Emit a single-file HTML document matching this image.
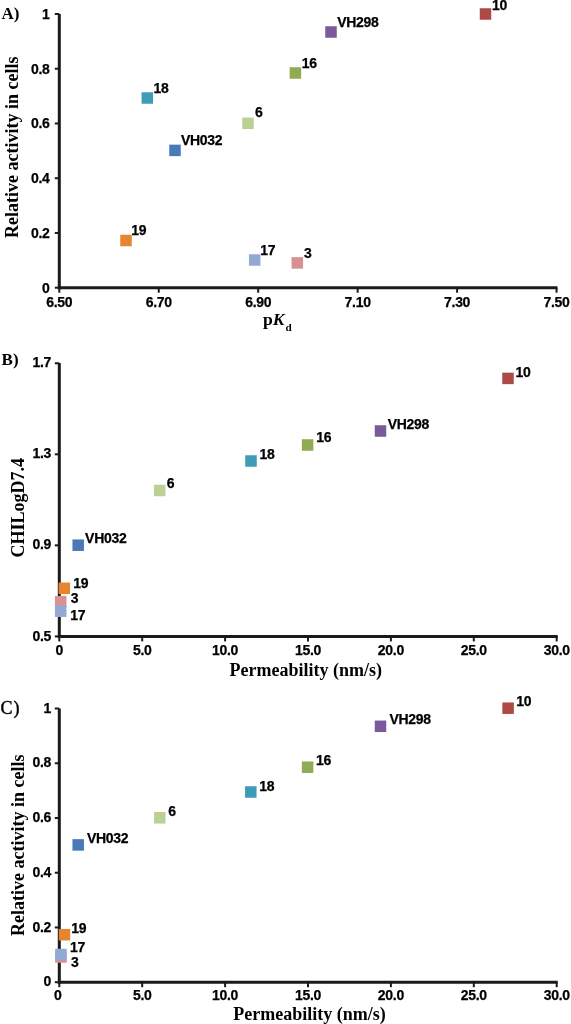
<!DOCTYPE html>
<html><head><meta charset="utf-8"><style>
html,body{margin:0;padding:0;background:#fff;width:571px;height:1024px;overflow:hidden}
svg{display:block;will-change:transform}
text{fill:#000}
</style></head><body>
<svg width="571" height="1024" viewBox="0 0 571 1024">
<rect width="571" height="1024" fill="#fff"/>
<line x1="59.3" y1="14.0" x2="59.3" y2="289.2" stroke="#1a1a1a" stroke-width="3"/>
<line x1="57.8" y1="287.7" x2="557.5" y2="287.7" stroke="#1a1a1a" stroke-width="3"/>
<line x1="54.8" y1="14.0" x2="59.3" y2="14.0" stroke="#1a1a1a" stroke-width="2"/>
<text x="49.5" y="18.8" text-anchor="end" style="font-family:'Liberation Sans',sans-serif;font-weight:bold;stroke:#000;stroke-width:0.25px;letter-spacing:-0.3px;font-size:14px" >1</text>
<line x1="54.8" y1="68.73999999999998" x2="59.3" y2="68.73999999999998" stroke="#1a1a1a" stroke-width="2"/>
<text x="49.5" y="73.53999999999998" text-anchor="end" style="font-family:'Liberation Sans',sans-serif;font-weight:bold;stroke:#000;stroke-width:0.25px;letter-spacing:-0.3px;font-size:14px" >0.8</text>
<line x1="54.8" y1="123.47999999999999" x2="59.3" y2="123.47999999999999" stroke="#1a1a1a" stroke-width="2"/>
<text x="49.5" y="128.28" text-anchor="end" style="font-family:'Liberation Sans',sans-serif;font-weight:bold;stroke:#000;stroke-width:0.25px;letter-spacing:-0.3px;font-size:14px" >0.6</text>
<line x1="54.8" y1="178.21999999999997" x2="59.3" y2="178.21999999999997" stroke="#1a1a1a" stroke-width="2"/>
<text x="49.5" y="183.01999999999998" text-anchor="end" style="font-family:'Liberation Sans',sans-serif;font-weight:bold;stroke:#000;stroke-width:0.25px;letter-spacing:-0.3px;font-size:14px" >0.4</text>
<line x1="54.8" y1="232.95999999999998" x2="59.3" y2="232.95999999999998" stroke="#1a1a1a" stroke-width="2"/>
<text x="49.5" y="237.76" text-anchor="end" style="font-family:'Liberation Sans',sans-serif;font-weight:bold;stroke:#000;stroke-width:0.25px;letter-spacing:-0.3px;font-size:14px" >0.2</text>
<line x1="54.8" y1="287.7" x2="59.3" y2="287.7" stroke="#1a1a1a" stroke-width="2"/>
<text x="49.5" y="292.5" text-anchor="end" style="font-family:'Liberation Sans',sans-serif;font-weight:bold;stroke:#000;stroke-width:0.25px;letter-spacing:-0.3px;font-size:14px" >0</text>
<line x1="59.3" y1="287.7" x2="59.3" y2="292.7" stroke="#1a1a1a" stroke-width="2"/>
<text x="59.3" y="307.1" text-anchor="middle" style="font-family:'Liberation Sans',sans-serif;font-weight:bold;stroke:#000;stroke-width:0.25px;letter-spacing:-0.3px;font-size:14px" >6.50</text>
<line x1="158.75" y1="287.7" x2="158.75" y2="292.7" stroke="#1a1a1a" stroke-width="2"/>
<text x="158.75" y="307.1" text-anchor="middle" style="font-family:'Liberation Sans',sans-serif;font-weight:bold;stroke:#000;stroke-width:0.25px;letter-spacing:-0.3px;font-size:14px" >6.70</text>
<line x1="258.2" y1="287.7" x2="258.2" y2="292.7" stroke="#1a1a1a" stroke-width="2"/>
<text x="258.2" y="307.1" text-anchor="middle" style="font-family:'Liberation Sans',sans-serif;font-weight:bold;stroke:#000;stroke-width:0.25px;letter-spacing:-0.3px;font-size:14px" >6.90</text>
<line x1="357.65000000000003" y1="287.7" x2="357.65000000000003" y2="292.7" stroke="#1a1a1a" stroke-width="2"/>
<text x="357.65000000000003" y="307.1" text-anchor="middle" style="font-family:'Liberation Sans',sans-serif;font-weight:bold;stroke:#000;stroke-width:0.25px;letter-spacing:-0.3px;font-size:14px" >7.10</text>
<line x1="457.1" y1="287.7" x2="457.1" y2="292.7" stroke="#1a1a1a" stroke-width="2"/>
<text x="457.1" y="307.1" text-anchor="middle" style="font-family:'Liberation Sans',sans-serif;font-weight:bold;stroke:#000;stroke-width:0.25px;letter-spacing:-0.3px;font-size:14px" >7.30</text>
<line x1="556.55" y1="287.7" x2="556.55" y2="292.7" stroke="#1a1a1a" stroke-width="2"/>
<text x="556.55" y="307.1" text-anchor="middle" style="font-family:'Liberation Sans',sans-serif;font-weight:bold;stroke:#000;stroke-width:0.25px;letter-spacing:-0.3px;font-size:14px" >7.50</text>
<text x="1.4" y="19" text-anchor="start" style="font-family:'Liberation Serif',serif;font-weight:bold;font-size:17px" >A)</text>
<text transform="translate(17.5,238) rotate(-90)" style="font-family:'Liberation Serif',serif;font-weight:bold;font-size:18px">Relative activity in cells</text>
<text x="263" y="324.9" style="font-family:'Liberation Serif',serif;font-weight:bold;font-size:17.6px">p<tspan font-style="italic">K</tspan><tspan font-size="11.2px" dy="5.8" dx="0.9">d</tspan></text>
<rect x="291.55" y="257.15" width="11.5" height="11.5" fill="#D69190"/>
<rect x="248.95" y="254.25" width="11.5" height="11.5" fill="#93A9D4"/>
<rect x="120.25" y="234.75" width="11.5" height="11.5" fill="#E6842F"/>
<rect x="169.25" y="144.65" width="11.5" height="11.5" fill="#4979B7"/>
<rect x="242.25" y="117.55" width="11.5" height="11.5" fill="#BAD095"/>
<rect x="141.55" y="92.25" width="11.5" height="11.5" fill="#3D9CB6"/>
<rect x="289.65" y="67.25" width="11.5" height="11.5" fill="#90AB52"/>
<rect x="325.25" y="26.25" width="11.5" height="11.5" fill="#795B9B"/>
<rect x="479.75" y="8.25" width="11.5" height="11.5" fill="#AE4A46"/>
<text x="304" y="257.7" text-anchor="start" style="font-family:'Liberation Sans',sans-serif;font-weight:bold;stroke:#000;stroke-width:0.25px;letter-spacing:-0.3px;font-size:14px" >3</text>
<text x="260.2" y="254.9" text-anchor="start" style="font-family:'Liberation Sans',sans-serif;font-weight:bold;stroke:#000;stroke-width:0.25px;letter-spacing:-0.3px;font-size:14px" >17</text>
<text x="131.2" y="235.0" text-anchor="start" style="font-family:'Liberation Sans',sans-serif;font-weight:bold;stroke:#000;stroke-width:0.25px;letter-spacing:-0.3px;font-size:14px" >19</text>
<text x="181" y="145.3" text-anchor="start" style="font-family:'Liberation Sans',sans-serif;font-weight:bold;stroke:#000;stroke-width:0.25px;letter-spacing:-0.3px;font-size:14px" >VH032</text>
<text x="255" y="117.3" text-anchor="start" style="font-family:'Liberation Sans',sans-serif;font-weight:bold;stroke:#000;stroke-width:0.25px;letter-spacing:-0.3px;font-size:14px" >6</text>
<text x="153.5" y="92.6" text-anchor="start" style="font-family:'Liberation Sans',sans-serif;font-weight:bold;stroke:#000;stroke-width:0.25px;letter-spacing:-0.3px;font-size:14px" >18</text>
<text x="301.7" y="67.6" text-anchor="start" style="font-family:'Liberation Sans',sans-serif;font-weight:bold;stroke:#000;stroke-width:0.25px;letter-spacing:-0.3px;font-size:14px" >16</text>
<text x="337.2" y="26.900000000000002" text-anchor="start" style="font-family:'Liberation Sans',sans-serif;font-weight:bold;stroke:#000;stroke-width:0.25px;letter-spacing:-0.3px;font-size:14px" >VH298</text>
<text x="492" y="10.3" text-anchor="start" style="font-family:'Liberation Sans',sans-serif;font-weight:bold;stroke:#000;stroke-width:0.25px;letter-spacing:-0.3px;font-size:14px" >10</text>
<line x1="59.3" y1="363.0" x2="59.3" y2="637.9" stroke="#1a1a1a" stroke-width="3"/>
<line x1="57.8" y1="636.4" x2="557.7" y2="636.4" stroke="#1a1a1a" stroke-width="3"/>
<line x1="54.8" y1="363.28" x2="59.3" y2="363.28" stroke="#1a1a1a" stroke-width="2"/>
<text x="51" y="367.38" text-anchor="end" style="font-family:'Liberation Sans',sans-serif;font-weight:bold;stroke:#000;stroke-width:0.25px;letter-spacing:-0.3px;font-size:14px" >1.7</text>
<line x1="54.8" y1="454.31999999999994" x2="59.3" y2="454.31999999999994" stroke="#1a1a1a" stroke-width="2"/>
<text x="51" y="458.41999999999996" text-anchor="end" style="font-family:'Liberation Sans',sans-serif;font-weight:bold;stroke:#000;stroke-width:0.25px;letter-spacing:-0.3px;font-size:14px" >1.3</text>
<line x1="54.8" y1="545.36" x2="59.3" y2="545.36" stroke="#1a1a1a" stroke-width="2"/>
<text x="51" y="549.4599999999999" text-anchor="end" style="font-family:'Liberation Sans',sans-serif;font-weight:bold;stroke:#000;stroke-width:0.25px;letter-spacing:-0.3px;font-size:14px" >0.9</text>
<line x1="54.8" y1="636.4" x2="59.3" y2="636.4" stroke="#1a1a1a" stroke-width="2"/>
<text x="51" y="640.4999999999999" text-anchor="end" style="font-family:'Liberation Sans',sans-serif;font-weight:bold;stroke:#000;stroke-width:0.25px;letter-spacing:-0.3px;font-size:14px" >0.5</text>
<line x1="59.3" y1="636.4" x2="59.3" y2="641.4" stroke="#1a1a1a" stroke-width="2"/>
<text x="59.3" y="654.5" text-anchor="middle" style="font-family:'Liberation Sans',sans-serif;font-weight:bold;stroke:#000;stroke-width:0.25px;letter-spacing:-0.3px;font-size:14px" >0</text>
<line x1="142.2" y1="636.4" x2="142.2" y2="641.4" stroke="#1a1a1a" stroke-width="2"/>
<text x="142.2" y="654.5" text-anchor="middle" style="font-family:'Liberation Sans',sans-serif;font-weight:bold;stroke:#000;stroke-width:0.25px;letter-spacing:-0.3px;font-size:14px" >5.0</text>
<line x1="225.09999999999997" y1="636.4" x2="225.09999999999997" y2="641.4" stroke="#1a1a1a" stroke-width="2"/>
<text x="225.09999999999997" y="654.5" text-anchor="middle" style="font-family:'Liberation Sans',sans-serif;font-weight:bold;stroke:#000;stroke-width:0.25px;letter-spacing:-0.3px;font-size:14px" >10.0</text>
<line x1="308.0" y1="636.4" x2="308.0" y2="641.4" stroke="#1a1a1a" stroke-width="2"/>
<text x="308.0" y="654.5" text-anchor="middle" style="font-family:'Liberation Sans',sans-serif;font-weight:bold;stroke:#000;stroke-width:0.25px;letter-spacing:-0.3px;font-size:14px" >15.0</text>
<line x1="390.9" y1="636.4" x2="390.9" y2="641.4" stroke="#1a1a1a" stroke-width="2"/>
<text x="390.9" y="654.5" text-anchor="middle" style="font-family:'Liberation Sans',sans-serif;font-weight:bold;stroke:#000;stroke-width:0.25px;letter-spacing:-0.3px;font-size:14px" >20.0</text>
<line x1="473.79999999999995" y1="636.4" x2="473.79999999999995" y2="641.4" stroke="#1a1a1a" stroke-width="2"/>
<text x="473.79999999999995" y="654.5" text-anchor="middle" style="font-family:'Liberation Sans',sans-serif;font-weight:bold;stroke:#000;stroke-width:0.25px;letter-spacing:-0.3px;font-size:14px" >25.0</text>
<line x1="556.6999999999999" y1="636.4" x2="556.6999999999999" y2="641.4" stroke="#1a1a1a" stroke-width="2"/>
<text x="556.6999999999999" y="654.5" text-anchor="middle" style="font-family:'Liberation Sans',sans-serif;font-weight:bold;stroke:#000;stroke-width:0.25px;letter-spacing:-0.3px;font-size:14px" >30.0</text>
<text x="1.6" y="364.8" text-anchor="start" style="font-family:'Liberation Serif',serif;font-weight:bold;font-size:17px" >B)</text>
<text transform="translate(23.5,557.6) rotate(-90)" style="font-family:'Liberation Serif',serif;font-weight:bold;font-size:18px">CHILogD7.4</text>
<text x="229.5" y="675.7" text-anchor="start" style="font-family:'Liberation Serif',serif;font-weight:bold;font-size:18px" >Permeability (nm/s)</text>
<rect x="54.95" y="595.95" width="11.5" height="11.5" fill="#D69190"/>
<rect x="54.95" y="605.45" width="11.5" height="11.5" fill="#93A9D4"/>
<rect x="58.55" y="582.55" width="11.5" height="11.5" fill="#E6842F"/>
<rect x="72.45" y="539.45" width="11.5" height="11.5" fill="#4979B7"/>
<rect x="153.95" y="484.75" width="11.5" height="11.5" fill="#BAD095"/>
<rect x="245.25" y="455.25" width="11.5" height="11.5" fill="#3D9CB6"/>
<rect x="301.85" y="439.25" width="11.5" height="11.5" fill="#90AB52"/>
<rect x="374.75" y="425.25" width="11.5" height="11.5" fill="#795B9B"/>
<rect x="502.25" y="372.65" width="11.5" height="11.5" fill="#AE4A46"/>
<text x="70.7" y="602.9" text-anchor="start" style="font-family:'Liberation Sans',sans-serif;font-weight:bold;stroke:#000;stroke-width:0.25px;letter-spacing:-0.3px;font-size:14px" >3</text>
<text x="70.2" y="619.6999999999999" text-anchor="start" style="font-family:'Liberation Sans',sans-serif;font-weight:bold;stroke:#000;stroke-width:0.25px;letter-spacing:-0.3px;font-size:14px" >17</text>
<text x="73.2" y="587.5999999999999" text-anchor="start" style="font-family:'Liberation Sans',sans-serif;font-weight:bold;stroke:#000;stroke-width:0.25px;letter-spacing:-0.3px;font-size:14px" >19</text>
<text x="85.1" y="543.0999999999999" text-anchor="start" style="font-family:'Liberation Sans',sans-serif;font-weight:bold;stroke:#000;stroke-width:0.25px;letter-spacing:-0.3px;font-size:14px" >VH032</text>
<text x="166.7" y="488.3" text-anchor="start" style="font-family:'Liberation Sans',sans-serif;font-weight:bold;stroke:#000;stroke-width:0.25px;letter-spacing:-0.3px;font-size:14px" >6</text>
<text x="259.4" y="458.6" text-anchor="start" style="font-family:'Liberation Sans',sans-serif;font-weight:bold;stroke:#000;stroke-width:0.25px;letter-spacing:-0.3px;font-size:14px" >18</text>
<text x="316.2" y="442.3" text-anchor="start" style="font-family:'Liberation Sans',sans-serif;font-weight:bold;stroke:#000;stroke-width:0.25px;letter-spacing:-0.3px;font-size:14px" >16</text>
<text x="387.7" y="428.8" text-anchor="start" style="font-family:'Liberation Sans',sans-serif;font-weight:bold;stroke:#000;stroke-width:0.25px;letter-spacing:-0.3px;font-size:14px" >VH298</text>
<text x="515.5" y="376.6" text-anchor="start" style="font-family:'Liberation Sans',sans-serif;font-weight:bold;stroke:#000;stroke-width:0.25px;letter-spacing:-0.3px;font-size:14px" >10</text>
<line x1="59.3" y1="708.5" x2="59.3" y2="983.7" stroke="#1a1a1a" stroke-width="3"/>
<line x1="57.8" y1="982.2" x2="557.7" y2="982.2" stroke="#1a1a1a" stroke-width="3"/>
<line x1="54.8" y1="708.5" x2="59.3" y2="708.5" stroke="#1a1a1a" stroke-width="2"/>
<text x="51" y="712.5999999999999" text-anchor="end" style="font-family:'Liberation Sans',sans-serif;font-weight:bold;stroke:#000;stroke-width:0.25px;letter-spacing:-0.3px;font-size:14px" >1</text>
<line x1="54.8" y1="763.24" x2="59.3" y2="763.24" stroke="#1a1a1a" stroke-width="2"/>
<text x="51" y="767.3399999999999" text-anchor="end" style="font-family:'Liberation Sans',sans-serif;font-weight:bold;stroke:#000;stroke-width:0.25px;letter-spacing:-0.3px;font-size:14px" >0.8</text>
<line x1="54.8" y1="817.98" x2="59.3" y2="817.98" stroke="#1a1a1a" stroke-width="2"/>
<text x="51" y="822.0799999999999" text-anchor="end" style="font-family:'Liberation Sans',sans-serif;font-weight:bold;stroke:#000;stroke-width:0.25px;letter-spacing:-0.3px;font-size:14px" >0.6</text>
<line x1="54.8" y1="872.72" x2="59.3" y2="872.72" stroke="#1a1a1a" stroke-width="2"/>
<text x="51" y="876.8199999999999" text-anchor="end" style="font-family:'Liberation Sans',sans-serif;font-weight:bold;stroke:#000;stroke-width:0.25px;letter-spacing:-0.3px;font-size:14px" >0.4</text>
<line x1="54.8" y1="927.46" x2="59.3" y2="927.46" stroke="#1a1a1a" stroke-width="2"/>
<text x="51" y="931.56" text-anchor="end" style="font-family:'Liberation Sans',sans-serif;font-weight:bold;stroke:#000;stroke-width:0.25px;letter-spacing:-0.3px;font-size:14px" >0.2</text>
<line x1="54.8" y1="982.2" x2="59.3" y2="982.2" stroke="#1a1a1a" stroke-width="2"/>
<text x="51" y="986.3" text-anchor="end" style="font-family:'Liberation Sans',sans-serif;font-weight:bold;stroke:#000;stroke-width:0.25px;letter-spacing:-0.3px;font-size:14px" >0</text>
<line x1="59.3" y1="982.2" x2="59.3" y2="987.2" stroke="#1a1a1a" stroke-width="2"/>
<text x="57.699999999999996" y="1000.3" text-anchor="middle" style="font-family:'Liberation Sans',sans-serif;font-weight:bold;stroke:#000;stroke-width:0.25px;letter-spacing:-0.3px;font-size:14px" >0</text>
<line x1="142.2" y1="982.2" x2="142.2" y2="987.2" stroke="#1a1a1a" stroke-width="2"/>
<text x="142.2" y="1000.3" text-anchor="middle" style="font-family:'Liberation Sans',sans-serif;font-weight:bold;stroke:#000;stroke-width:0.25px;letter-spacing:-0.3px;font-size:14px" >5.0</text>
<line x1="225.09999999999997" y1="982.2" x2="225.09999999999997" y2="987.2" stroke="#1a1a1a" stroke-width="2"/>
<text x="225.09999999999997" y="1000.3" text-anchor="middle" style="font-family:'Liberation Sans',sans-serif;font-weight:bold;stroke:#000;stroke-width:0.25px;letter-spacing:-0.3px;font-size:14px" >10.0</text>
<line x1="308.0" y1="982.2" x2="308.0" y2="987.2" stroke="#1a1a1a" stroke-width="2"/>
<text x="308.0" y="1000.3" text-anchor="middle" style="font-family:'Liberation Sans',sans-serif;font-weight:bold;stroke:#000;stroke-width:0.25px;letter-spacing:-0.3px;font-size:14px" >15.0</text>
<line x1="390.9" y1="982.2" x2="390.9" y2="987.2" stroke="#1a1a1a" stroke-width="2"/>
<text x="390.9" y="1000.3" text-anchor="middle" style="font-family:'Liberation Sans',sans-serif;font-weight:bold;stroke:#000;stroke-width:0.25px;letter-spacing:-0.3px;font-size:14px" >20.0</text>
<line x1="473.79999999999995" y1="982.2" x2="473.79999999999995" y2="987.2" stroke="#1a1a1a" stroke-width="2"/>
<text x="473.79999999999995" y="1000.3" text-anchor="middle" style="font-family:'Liberation Sans',sans-serif;font-weight:bold;stroke:#000;stroke-width:0.25px;letter-spacing:-0.3px;font-size:14px" >25.0</text>
<line x1="556.6999999999999" y1="982.2" x2="556.6999999999999" y2="987.2" stroke="#1a1a1a" stroke-width="2"/>
<text x="556.6999999999999" y="1000.3" text-anchor="middle" style="font-family:'Liberation Sans',sans-serif;font-weight:bold;stroke:#000;stroke-width:0.25px;letter-spacing:-0.3px;font-size:14px" >30.0</text>
<text x="0.6" y="713.8" text-anchor="start" style="font-family:'Liberation Serif',serif;font-weight:normal;stroke:#000;stroke-width:0.4px;font-size:18px" >C<tspan dx="0.8">)</tspan></text>
<text transform="translate(23.8,936) rotate(-90)" style="font-family:'Liberation Serif',serif;font-weight:bold;font-size:18px">Relative activity in cells</text>
<text x="233.2" y="1019.9" text-anchor="start" style="font-family:'Liberation Serif',serif;font-weight:bold;font-size:18px" >Permeability (nm/s)</text>
<rect x="55.15" y="951.25" width="11.5" height="11.5" fill="#D69190"/>
<rect x="55.15" y="948.75" width="11.5" height="11.5" fill="#93A9D4"/>
<rect x="58.75" y="928.95" width="11.5" height="11.5" fill="#E6842F"/>
<rect x="72.45" y="839.15" width="11.5" height="11.5" fill="#4979B7"/>
<rect x="154.05" y="812.05" width="11.5" height="11.5" fill="#BAD095"/>
<rect x="245.05" y="786.25" width="11.5" height="11.5" fill="#3D9CB6"/>
<rect x="301.85" y="761.45" width="11.5" height="11.5" fill="#90AB52"/>
<rect x="374.75" y="720.55" width="11.5" height="11.5" fill="#795B9B"/>
<rect x="502.35" y="702.45" width="11.5" height="11.5" fill="#AE4A46"/>
<text x="71" y="967.1999999999999" text-anchor="start" style="font-family:'Liberation Sans',sans-serif;font-weight:bold;stroke:#000;stroke-width:0.25px;letter-spacing:-0.3px;font-size:14px" >3</text>
<text x="70" y="952.1999999999999" text-anchor="start" style="font-family:'Liberation Sans',sans-serif;font-weight:bold;stroke:#000;stroke-width:0.25px;letter-spacing:-0.3px;font-size:14px" >17</text>
<text x="71.2" y="932.9" text-anchor="start" style="font-family:'Liberation Sans',sans-serif;font-weight:bold;stroke:#000;stroke-width:0.25px;letter-spacing:-0.3px;font-size:14px" >19</text>
<text x="86.9" y="843.0999999999999" text-anchor="start" style="font-family:'Liberation Sans',sans-serif;font-weight:bold;stroke:#000;stroke-width:0.25px;letter-spacing:-0.3px;font-size:14px" >VH032</text>
<text x="168.2" y="815.8" text-anchor="start" style="font-family:'Liberation Sans',sans-serif;font-weight:bold;stroke:#000;stroke-width:0.25px;letter-spacing:-0.3px;font-size:14px" >6</text>
<text x="259.2" y="791.3" text-anchor="start" style="font-family:'Liberation Sans',sans-serif;font-weight:bold;stroke:#000;stroke-width:0.25px;letter-spacing:-0.3px;font-size:14px" >18</text>
<text x="316" y="765.3" text-anchor="start" style="font-family:'Liberation Sans',sans-serif;font-weight:bold;stroke:#000;stroke-width:0.25px;letter-spacing:-0.3px;font-size:14px" >16</text>
<text x="389.4" y="724.0999999999999" text-anchor="start" style="font-family:'Liberation Sans',sans-serif;font-weight:bold;stroke:#000;stroke-width:0.25px;letter-spacing:-0.3px;font-size:14px" >VH298</text>
<text x="516.2" y="705.9" text-anchor="start" style="font-family:'Liberation Sans',sans-serif;font-weight:bold;stroke:#000;stroke-width:0.25px;letter-spacing:-0.3px;font-size:14px" >10</text>
</svg>
</body></html>
